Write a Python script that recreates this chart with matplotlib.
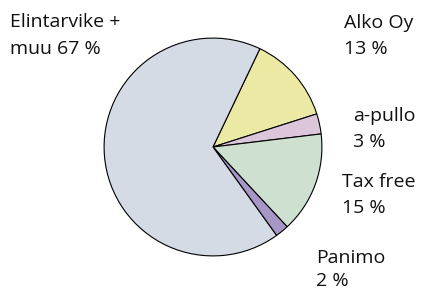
import matplotlib
matplotlib.use("Agg")
import matplotlib.pyplot as plt

# data (clockwise from top)
names = ["Alko Oy", "a-pullo", "Tax free", "Panimo", "Elintarvike +\nmuu"]
shares = [13, 3, 15, 2, 67]
colors = ["#ece9a4", "#dcc6dc", "#cee1d1", "#a797c6", "#d4dbe5"]

# label anchor spots in pixels (left x, first baseline y, gap to 2nd line)
label_xy = [(344, 28, 26), (353, 121, 26), (342, 187, 26), (316, 263, 23), (10, 27, 27)]

W, H = 423, 291
fig = plt.figure(figsize=(W / 100, H / 100), dpi=100)
plt.rcParams['font.family'] = ['Open Sans', 'DejaVu Sans']

cx, cy, r = 213, 147, 110
ax = fig.add_axes([(cx - r) / W, (H - cy - r) / H, 2 * r / W, 2 * r / H])
ax.pie(shares, colors=colors, startangle=64.5, counterclock=False,
       wedgeprops=dict(edgecolor="black", linewidth=0.8))
ax.set_xlim(-1.01, 1.01)
ax.set_ylim(-1.01, 1.01)
ax.set_aspect("equal")
ax.axis("off")

for name, val, (x, y, gap) in zip(names, shares, label_xy):
    if "\n" in name:
        first, rest = name.split("\n")
        lines = [first, f"{rest} {val} %"]
    else:
        lines = [name, f"{val} %"]
    for i, line in enumerate(lines):
        fig.text(x / W, 1 - (y + i * gap) / H, line, ha="left",
                 va="baseline", fontsize=14, color="#111111")

fig.savefig("out.png", dpi=100)
